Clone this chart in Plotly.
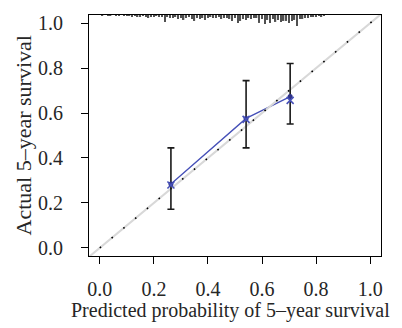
import plotly.graph_objects as go

# calibration points
pred = [0.263, 0.541, 0.704]
obs = [0.284, 0.576, 0.673]
lower = [0.172, 0.445, 0.551]
upper = [0.445, 0.744, 0.820]
corrected = [0.280, 0.572, 0.656]

# distribution of predicted probabilities (rug at top), bin centre and spike length
rug_x = [round(0.01 * i, 2) for i in range(1, 84)]
rug_n = [1, 0, 1, 1, 0, 1, 1, 0, 1, 1,
         1, 2, 1, 2, 2, 1, 2, 3, 2, 2,
         1, 2, 2, 7, 2, 3, 3, 2, 4, 3,
         5, 3, 2, 4, 6, 3, 4, 3, 5, 3,
         2, 3, 3, 2, 4, 3, 3, 4, 6, 3,
         8, 6, 4, 5, 3, 4, 3, 3, 8, 4,
         9, 5, 8, 4, 7, 5, 7, 6, 6, 8,
         6, 5, 11, 4, 4, 3, 3, 2, 2, 2,
         1, 2, 1]

xticks = [0.0, 0.2, 0.4, 0.6, 0.8, 1.0]
yticks = [0.0, 0.2, 0.4, 0.6, 0.8, 1.0]
xlim = [-0.04, 1.04]
ylim = [-0.036, 1.036]

FONT = "Liberation Serif"
BLUE = "#4650b8"
TXT = "#262626"

fig = go.Figure()

# observed line
fig.add_trace(go.Scatter(x=pred, y=obs, mode="lines",
                         line=dict(color=BLUE, width=1.3), hoverinfo="skip"))
# ideal line (grey)
fig.add_trace(go.Scatter(x=[xlim[0], xlim[1]], y=[xlim[0], xlim[1]], mode="lines",
                         line=dict(color="#d8d8d8", width=2), hoverinfo="skip"))
# ideal line (dots)
fig.add_trace(go.Scatter(x=[0, xlim[1]], y=[0, xlim[1]], mode="lines",
                         line=dict(color="black", width=1.6, dash="1.6px,13.7px"),
                         hoverinfo="skip"))
# observed with CI
fig.add_trace(go.Scatter(
    x=pred, y=obs, mode="markers",
    marker=dict(color="#30348a", size=5, symbol="circle"),
    error_y=dict(type="data", symmetric=False,
                 array=[u - o for u, o in zip(upper, obs)],
                 arrayminus=[o - l for o, l in zip(obs, lower)],
                 color="#1a1a1a", thickness=1.6, width=3.5)))
# bias corrected
fig.add_trace(go.Scatter(x=pred, y=corrected, mode="markers",
                         marker=dict(color=BLUE, size=7, symbol="x-thin",
                                     line=dict(color=BLUE, width=1.6))))
# rug of predicted values
fig.add_trace(go.Bar(x=rug_x, y=rug_n, yaxis="y2", width=0.005,
                     marker=dict(color="#505050", line=dict(width=0))))

axis_common = dict(showgrid=False, zeroline=False, showline=True, mirror=True,
                   linecolor="black", linewidth=1, ticks="outside", ticklen=7,
                   tickwidth=1, tickcolor="black",
                   tickfont=dict(family=FONT, size=20, color=TXT))

# page body has an 8px margin, so the figure is offset by (8, 8)
fig.update_layout(
    width=394, height=320,
    margin=dict(l=81, r=21, t=4, b=72),
    paper_bgcolor="white", plot_bgcolor="white",
    showlegend=False,
    xaxis=dict(range=xlim, tickvals=xticks, ticktext=[f"{v:.1f}" for v in xticks],
               ticklabelstandoff=8, **axis_common),
    yaxis=dict(range=ylim, tickvals=yticks, ticktext=[f"{v:.1f}" for v in yticks],
               ticklabelstandoff=14, **axis_common),
    yaxis2=dict(overlaying="y", range=[243, 0], showticklabels=False, showgrid=False,
                zeroline=False, showline=False, ticks="", fixedrange=True),
    annotations=[
        dict(text="Predicted probability of 5–year survival", xref="paper", yref="paper",
             x=0.5, y=0, xshift=-5, yshift=-54, showarrow=False, yanchor="middle",
             font=dict(family=FONT, size=20, color=TXT)),
        dict(text="Actual 5–year survival", xref="paper", yref="paper",
             x=0, y=0.5, xshift=-66, showarrow=False, textangle=-90, xanchor="center",
             yanchor="middle", font=dict(family=FONT, size=22, color=TXT)),
    ],
)

fig.write_html("out.html")
